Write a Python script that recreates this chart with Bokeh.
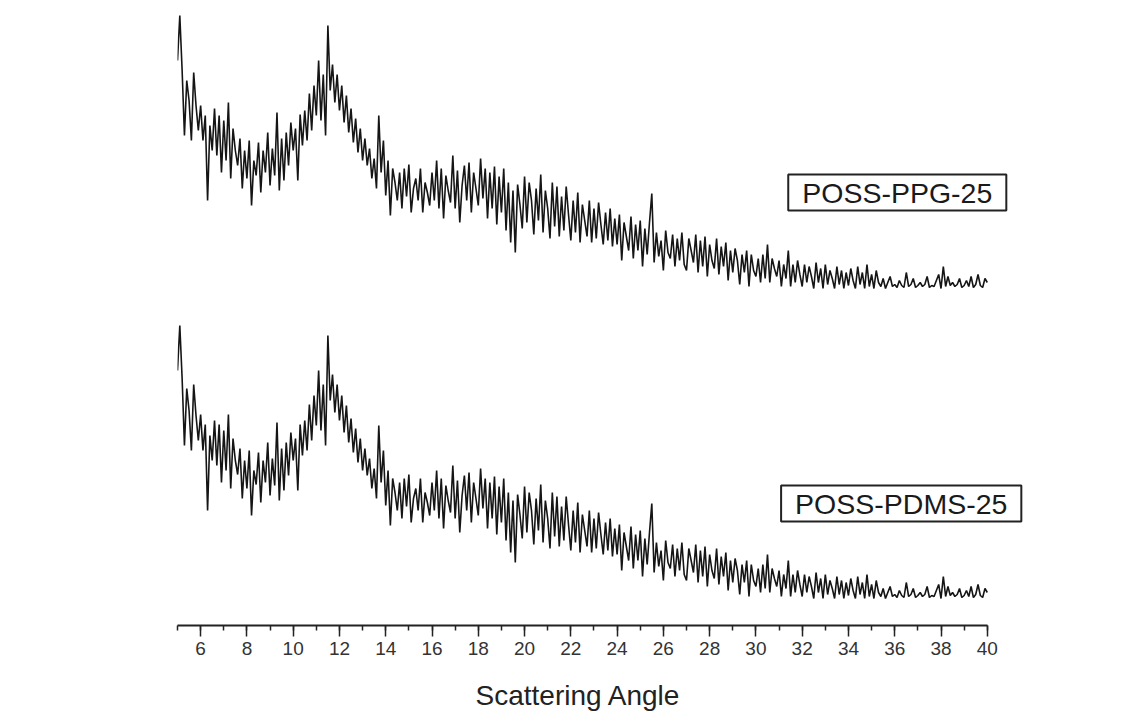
import numpy as np
from bokeh.plotting import figure
from bokeh.models import Range1d, SingleIntervalTicker, Label, Title
from bokeh.embed import file_html
from bokeh.resources import INLINE

# ---------------- data ----------------
angle_start = 5.0
angle_step = 0.1

ppg_25 = [
    240, 285, 230, 165, 220, 200, 160, 228, 195, 170,
    195, 160, 185, 100, 175, 150, 192, 145, 185, 128,
    180, 140, 198, 122, 172, 150, 135, 162, 112, 150,
    122, 160, 95, 140, 125, 158, 108, 150, 128, 168,
    115, 152, 125, 188, 110, 162, 120, 168, 135, 178,
    150, 172, 120, 186, 155, 190, 160, 207, 170, 215,
    185, 240, 180, 226, 165, 275, 210, 236, 198, 226,
    190, 215, 178, 205, 168, 192, 158, 182, 148, 172,
    140, 162, 135, 152, 122, 142, 112, 185, 128, 160,
    105, 140, 85, 132, 118, 100, 128, 92, 132, 104,
    136, 88, 112, 122, 100, 132, 88, 118, 108, 95,
    128, 100, 140, 92, 132, 82, 125, 110, 98, 145,
    92, 130, 78, 115, 135, 100, 138, 88, 128, 112,
    95, 142, 102, 132, 82, 128, 92, 134, 76, 124,
    88, 132, 70, 118, 58, 110, 48, 116, 96, 72,
    124, 78, 118, 100, 66, 112, 80, 126, 68, 110,
    92, 62, 118, 74, 114, 64, 104, 70, 114, 86,
    60, 100, 68, 108, 58, 96, 80, 64, 100, 58,
    92, 62, 98, 76, 56, 88, 60, 92, 54, 82,
    56, 86, 40, 78, 64, 50, 84, 42, 76, 50,
    80, 34, 72, 46, 78, 107, 38, 68, 44, 60,
    30, 70, 48, 42, 66, 34, 62, 40, 68, 36,
    30, 62, 50, 38, 66, 28, 60, 34, 64, 24,
    56, 40, 32, 62, 26, 54, 34, 58, 20, 50,
    28, 52, 40, 16, 46, 28, 50, 14, 46, 30,
    24, 42, 18, 46, 22, 56, 18, 42, 32, 24,
    40, 14, 36, 22, 50, 14, 36, 18, 40, 26,
    14, 36, 18, 34, 24, 12, 38, 18, 32, 12,
    36, 16, 30, 22, 12, 34, 16, 30, 12, 28,
    15, 32, 20, 12, 34, 16, 28, 12, 36, 14,
    26, 12, 30, 18, 14, 22, 12, 18, 24, 14,
    16, 13, 20, 15, 13, 28, 14, 16, 22, 13,
    15, 18, 14, 16, 24, 13, 15, 14, 20, 26,
    12, 34, 14, 24, 15, 18, 14, 16, 22, 13,
    15, 20, 14, 24, 13, 16, 26, 15, 13, 22,
    18,
]

pdms_25 = [
    240, 285, 232, 165, 222, 200, 160, 226, 195, 170,
    196, 160, 186, 100, 175, 150, 190, 145, 186, 128,
    180, 140, 196, 122, 172, 150, 136, 162, 112, 150,
    122, 160, 95, 140, 126, 158, 108, 150, 128, 168,
    115, 152, 125, 188, 110, 162, 120, 168, 135, 178,
    150, 172, 120, 186, 155, 190, 160, 206, 170, 215,
    185, 240, 180, 226, 165, 275, 210, 236, 198, 226,
    190, 215, 178, 205, 168, 192, 158, 182, 148, 172,
    140, 162, 135, 152, 122, 142, 112, 185, 128, 160,
    105, 140, 85, 132, 118, 100, 128, 92, 132, 104,
    136, 88, 112, 122, 100, 132, 88, 118, 108, 95,
    128, 100, 140, 92, 132, 82, 125, 110, 98, 145,
    92, 130, 78, 115, 135, 100, 138, 88, 128, 112,
    95, 142, 102, 132, 82, 128, 92, 134, 76, 124,
    88, 132, 70, 118, 58, 110, 48, 116, 96, 72,
    124, 78, 118, 100, 66, 112, 80, 126, 68, 110,
    92, 62, 118, 74, 114, 64, 104, 70, 114, 86,
    60, 100, 68, 108, 58, 96, 80, 64, 100, 58,
    92, 62, 98, 76, 56, 88, 60, 92, 54, 82,
    56, 86, 40, 78, 64, 50, 84, 42, 76, 50,
    80, 34, 72, 46, 78, 107, 38, 68, 44, 60,
    30, 70, 48, 42, 66, 34, 62, 40, 68, 36,
    30, 62, 50, 38, 66, 28, 60, 34, 64, 24,
    56, 40, 32, 62, 26, 54, 34, 58, 20, 50,
    28, 52, 40, 16, 46, 28, 50, 14, 46, 30,
    24, 42, 18, 46, 22, 56, 18, 42, 32, 24,
    40, 14, 36, 22, 50, 14, 36, 18, 40, 26,
    14, 36, 18, 34, 24, 12, 38, 18, 32, 12,
    36, 16, 30, 22, 12, 34, 16, 30, 12, 28,
    15, 32, 20, 12, 34, 16, 28, 12, 36, 14,
    26, 12, 30, 18, 14, 22, 12, 18, 24, 14,
    16, 13, 20, 15, 13, 28, 14, 16, 22, 13,
    15, 18, 14, 16, 24, 13, 15, 14, 20, 26,
    12, 34, 14, 24, 15, 18, 14, 16, 22, 13,
    15, 20, 14, 24, 13, 16, 26, 15, 13, 22,
    18,
]

series_names = ["POSS-PPG-25", "POSS-PDMS-25"]
x_label = "Scattering Angle"
axis_start, axis_end = 5, 40

angles = np.round(angle_start + angle_step * np.arange(len(ppg_25)), 1)

# ---------------- layout / style ----------------
offsets = [310, 0]          # vertical stacking of the traces
label_pos = [(36.11, 418), (36.28, 107)]

p = figure(
    width=1138, height=712,
    x_range=Range1d(5, 42.3), y_range=Range1d(-15, 610),
    output_backend="svg", toolbar_location=None,
    y_axis_location=None,
    min_border_left=177, min_border_right=98,
    min_border_top=0, min_border_bottom=87,
)
p.frame_width = 863
p.frame_height = 625
p.outline_line_color = None
p.grid.visible = False
p.background_fill_color = "white"
p.border_fill_color = "white"

for vals, off in zip([ppg_25, pdms_25], offsets):
    p.line(angles, np.array(vals) + off, line_color="#151515", line_width=1.6)

for name, (lx, ly) in zip(series_names, label_pos):
    p.add_layout(Label(
        x=lx, y=ly, text=name,
        text_font="Liberation Sans", text_font_size="28.5px", text_color="#1a1a1a",
        text_align="center", text_baseline="middle",
        border_line_color="#222222", border_line_width=2,
        background_fill_color="white", padding=(14, 2),
    ))

ax = p.xaxis[0]
ax.bounds = (axis_start, axis_end)
ax.ticker = SingleIntervalTicker(interval=2, num_minor_ticks=2)
ax.axis_line_width = 2
ax.axis_line_color = "#222222"
ax.major_tick_line_color = "#222222"
ax.minor_tick_line_color = "#222222"
ax.major_tick_line_width = 1.5
ax.minor_tick_line_width = 1.5
ax.major_tick_out = 11
ax.major_tick_in = 0
ax.minor_tick_out = 5
ax.minor_tick_in = 0
ax.major_label_text_font = "Liberation Sans"
ax.major_label_text_font_size = "19px"
ax.major_label_text_color = "#333333"
ax.major_label_standoff = 5

p.add_layout(Title(
    text=x_label, align="left", offset=298,
    text_font="Liberation Sans", text_font_size="28px",
    text_font_style="normal", text_color="#222222", standoff=40,
    vertical_align="bottom",
), "below")

open("out.html", "w").write(file_html(p, INLINE))
